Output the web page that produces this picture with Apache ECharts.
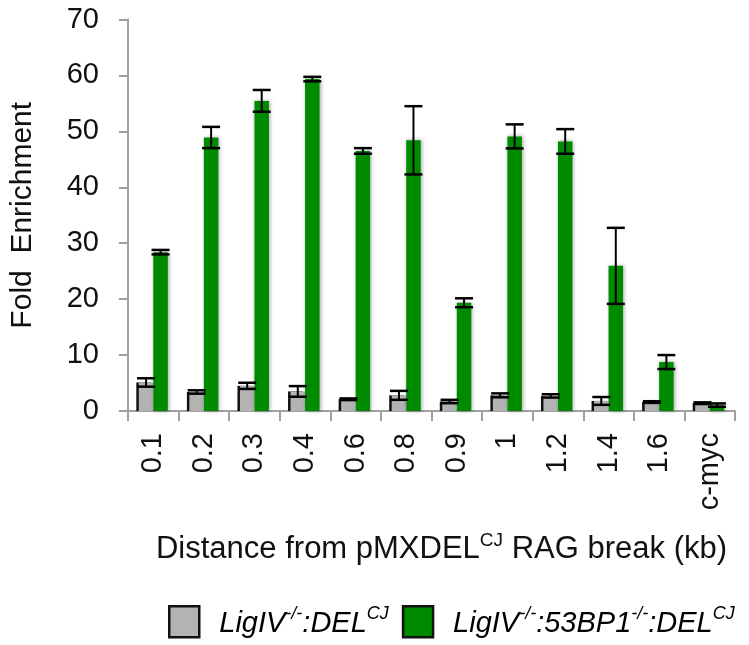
<!DOCTYPE html>
<html>
<head>
<meta charset="utf-8">
<script src="https://cdn.jsdelivr.net/npm/echarts@6/dist/echarts.min.js"></script>
<style>
html,body{margin:0;padding:0;background:#fff;}
#chart{width:749px;height:645px;}
</style>
</head>
<body>
<div id="chart"></div>
<script>
const categories = ['0.1','0.2','0.3','0.4','0.6','0.8','0.9','1','1.2','1.4','1.6','c-myc'];
const grayValues  = [5.1, 3.4, 4.5, 3.5, 2.1, 2.8, 1.7, 2.8, 2.7, 1.8, 1.6, 1.4];
const grayErrors  = [0.75, 0.3, 0.55, 0.95, 0.15, 0.8, 0.3, 0.35, 0.3, 0.7, 0.15, 0.15];
const greenValues = [28.4, 48.9, 55.45, 59.35, 46.5, 48.4, 19.35, 49.1, 48.2, 25.95, 8.75, 1.05];
const greenErrors = [0.4, 1.9, 1.95, 0.4, 0.5, 6.1, 0.8, 2.15, 2.2, 6.8, 1.25, 0.3];
const yTicks = [0, 10, 20, 30, 40, 50, 60, 70];

const BAR_W = 14.5;
const FONT = 'Liberation Sans, Arial, Helvetica, sans-serif';

function errRender(offset) {
  return function (params, api) {
    const i = api.value(0), v = api.value(1), e = api.value(2);
    const hi = api.coord([i, v + e]);
    const lo = api.coord([i, v - e]);
    const cx = hi[0] + offset;
    const cap = 9;
    const st = { stroke: '#000', lineWidth: 2.5 };
    return {
      type: 'group',
      children: [
        { type: 'line', shape: { x1: cx, y1: hi[1], x2: cx, y2: lo[1] }, style: { stroke: '#000', lineWidth: 2 } },
        { type: 'line', shape: { x1: cx - cap, y1: hi[1], x2: cx + cap, y2: hi[1] }, style: st },
        { type: 'line', shape: { x1: cx - cap, y1: lo[1], x2: cx + cap, y2: lo[1] }, style: st }
      ]
    };
  };
}

const chart = echarts.init(document.getElementById('chart'), null, { renderer: 'canvas' });
const legRich = {
  sp: { width: 15 },
  i: { fontFamily: FONT, fontSize: 29, fontStyle: 'italic', color: '#000', lineHeight: 33, verticalAlign: 'bottom' },
  s: { fontFamily: FONT, fontSize: 18, fontStyle: 'italic', color: '#000', lineHeight: 33, verticalAlign: 'top' }
};
chart.setOption({
  animation: false,
  grid: { left: 126, right: 14, top: 19.5, bottom: 234, containLabel: false },
  legend: {
    left: 163, top: 600,
    itemWidth: 30, itemHeight: 31, itemGap: 13,
    icon: 'rect',
    data: [
      { name: 'g1', itemStyle: { color: '#b3b3b3', borderColor: '#111', borderWidth: 2.5, shadowBlur: 0, shadowOffsetX: 0, shadowColor: 'transparent' } },
      { name: 'g2', itemStyle: { color: '#008a00', borderColor: '#111', borderWidth: 2.5, shadowBlur: 0, shadowOffsetX: 0, shadowColor: 'transparent' } }
    ],
    formatter: function (n) {
      if (n === 'g1') return '{sp|}{i|LigIV}{s|-/-}{i|:DEL}{s|CJ}';
      return '{sp|}{i|LigIV}{s|-/-}{i|:53BP1}{s|-/-}{i|:DEL}{s|CJ}';
    },
    textStyle: { rich: legRich }
  },
  xAxis: {
    type: 'category',
    data: categories,
    axisLine: { lineStyle: { color: '#a0a0a0', width: 2 } },
    axisTick: { show: true, length: 10, lineStyle: { color: '#a0a0a0', width: 2 } },
    axisLabel: { rotate: 90, margin: 22, fontSize: 29, color: '#111', fontFamily: FONT, interval: 0 },
    name: '{n|Distance from pMXDEL}{s|CJ}{n| RAG break (kb)}',
    nameLocation: 'middle',
    nameGap: 120,
    nameTextStyle: {
      padding: [0, 0, 0, 20],
      rich: {
        n: { fontFamily: FONT, fontSize: 31, color: '#111', lineHeight: 34, verticalAlign: 'bottom' },
        s: { fontFamily: FONT, fontSize: 19, color: '#111', lineHeight: 34, verticalAlign: 'top' }
      }
    }
  },
  yAxis: {
    type: 'value',
    min: 0, max: 70, interval: 10,
    axisLine: { show: true, lineStyle: { color: '#a0a0a0', width: 2 } },
    axisTick: { show: true, length: 9, lineStyle: { color: '#a0a0a0', width: 2 } },
    splitLine: { show: false },
    axisLabel: {
      margin: 29, fontSize: 29, color: '#111', fontFamily: FONT,
      formatter: function (v) { return yTicks.indexOf(v) >= 0 ? String(v) : ''; }
    },
    name: 'Fold  Enrichment',
    nameLocation: 'middle',
    nameGap: 90,
    nameTextStyle: { fontSize: 30, color: '#111', fontFamily: FONT }
  },
  series: [
    {
      name: 'g1', type: 'bar', data: grayValues, barWidth: BAR_W, barGap: '0%',
      itemStyle: { color: '#b3b3b3', shadowBlur: 0, shadowColor: '#111', shadowOffsetX: -2.5, shadowOffsetY: 0 }
    },
    {
      name: 'g2', type: 'bar', data: greenValues, barWidth: BAR_W, barGap: '0%',
      itemStyle: { color: '#008a00', shadowBlur: 4, shadowColor: 'rgba(0,0,0,0.35)', shadowOffsetX: 1, shadowOffsetY: 0 }
    },
    {
      type: 'custom', renderItem: errRender(-BAR_W / 2), z: 10,
      data: grayValues.map(function (v, i) { return [i, v, grayErrors[i]]; })
    },
    {
      type: 'custom', renderItem: errRender(BAR_W / 2), z: 10,
      data: greenValues.map(function (v, i) { return [i, v, greenErrors[i]]; })
    }
  ]
});
</script>
</body>
</html>
